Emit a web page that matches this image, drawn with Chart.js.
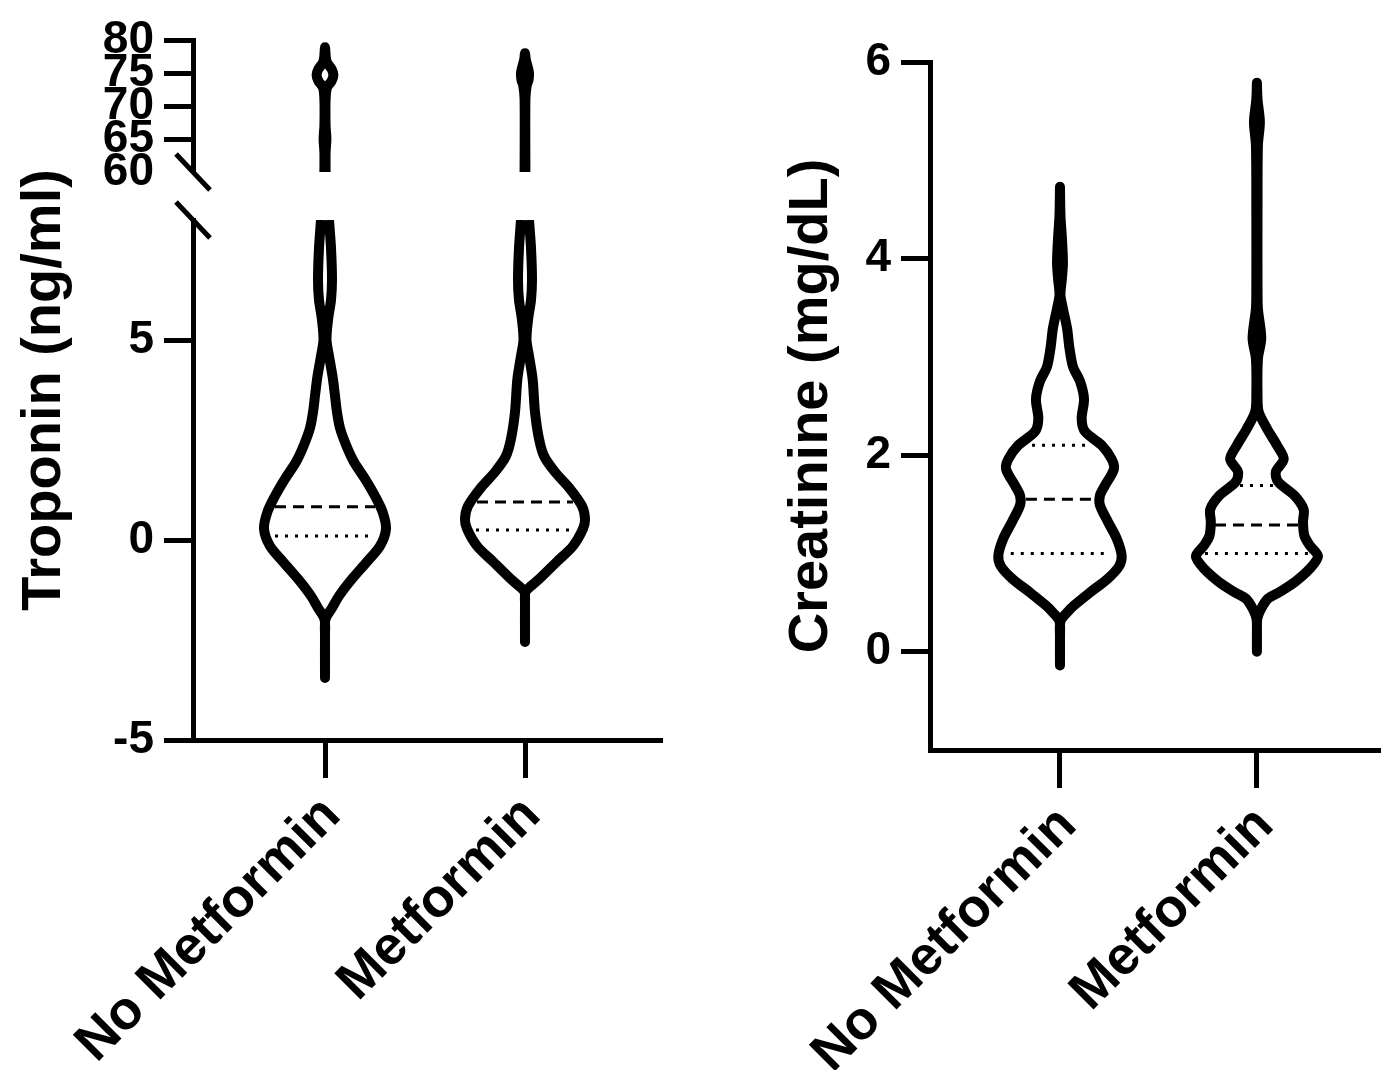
<!DOCTYPE html>
<html>
<head>
<meta charset="utf-8">
<script src="https://cdn.jsdelivr.net/npm/chart.js@4.4.1/dist/chart.umd.min.js"></script>
<style>
    html, body { margin: 0; padding: 0; background: #fff; }
    #wrap { position: relative; width: 1381px; height: 1070px; overflow: hidden; }
    canvas { position: absolute; top: 0; }
    #troponinChart { left: 0; }
    #creatinineChart { left: 690px; }
</style>
</head>
<body>
<div id="wrap">
    <canvas id="troponinChart" width="690" height="1070"></canvas>
    <canvas id="creatinineChart" width="691" height="1070"></canvas>
</div>
<script>
const groups = ['No Metformin', 'Metformin']

// troponin, lower part of the broken axis (-5..8): levels and violin half-widths (category units)
const tropNoMetLevels = [-3.45, -2.4, -1.98, -1.7, -1.4, -0.98, -0.55, -0.15, 0.28, 0.7, 1.1, 1.53, 1.95, 2.38, 2.8, 3.23, 3.65, 4.08, 4.6, 5.0, 5.5, 6.0, 6.5, 7.3, 8.0]
const tropNoMetWidths = [0, 0, 0.0025, 0.035, 0.07, 0.134, 0.209, 0.275, 0.305, 0.288, 0.25, 0.2, 0.145, 0.105, 0.075, 0.059, 0.049, 0.038, 0.02, 0.0075, 0.015, 0.03, 0.035, 0.03, 0.02]
const tropMetLevels = [-2.55, -1.6, -1.3, -1.15, -0.98, -0.55, -0.15, 0.28, 0.53, 0.85, 1.28, 1.7, 2.1, 2.53, 3.2, 4.03, 4.6, 5.0, 5.5, 6.0, 6.5, 7.3, 8.0]
const tropMetWidths = [0, 0, 0.0025, 0.03, 0.07, 0.158, 0.24, 0.29, 0.3, 0.285, 0.225, 0.15, 0.095, 0.07, 0.05, 0.038, 0.02, 0.0075, 0.015, 0.03, 0.035, 0.03, 0.02]

// troponin, upper part of the broken axis (60..80)
const tropNoMetHighLevels = [60, 63, 65, 67, 71, 72.8, 73.8, 74.7, 75.6, 76.6, 77.4, 78.2, 78.9]
const tropNoMetHighWidths = [0.003, 0.003, 0.007, 0.003, 0.003, 0.01, 0.033, 0.042, 0.033, 0.01, 0.004, 0.002, 0]
const tropMetHighLevels = [60, 71, 73, 74, 75, 76, 77, 78]
const tropMetHighWidths = [0.002, 0.002, 0.008, 0.018, 0.02, 0.013, 0.004, 0]

// troponin quartile lines [No Metformin, Metformin]
const tropMedians = [0.83, 0.95]
const tropMedianWidths = [0.25, 0.24]
const tropQ1 = [0.1, 0.25]
const tropQ1Widths = [0.25, 0.245]

const tropLowTicks = [-5, 0, 5]
const tropHighTicks = [60, 65, 70, 75, 80]

// creatinine
const creatNoMetLevels = [-0.14, 0.15, 0.31, 0.4, 0.47, 0.61, 0.74, 0.87, 0.98, 1.15, 1.32, 1.49, 1.59, 1.69, 1.86, 1.96, 2.1, 2.24, 2.37, 2.57, 2.75, 2.9, 3.09, 3.29, 3.49, 3.63, 3.8, 3.96, 4.2, 4.44, 4.73]
const creatNoMetWidths = [0, 0, 0.0025, 0.036, 0.071, 0.157, 0.241, 0.3, 0.313, 0.288, 0.244, 0.203, 0.203, 0.228, 0.274, 0.262, 0.212, 0.127, 0.11, 0.122, 0.102, 0.066, 0.048, 0.036, 0.015, 0.0025, 0.01, 0.015, 0.01, 0.0025, 0]
const creatMetLevels = [0.0, 0.2, 0.34, 0.45, 0.54, 0.61, 0.71, 0.84, 0.97, 1.08, 1.18, 1.32, 1.45, 1.59, 1.73, 1.83, 1.96, 2.1, 2.27, 2.44, 2.6, 2.98, 3.19, 3.49, 3.73, 4.44, 5.15, 5.39, 5.62, 5.79]
const creatMetWidths = [0, 0, 0.0025, 0.025, 0.056, 0.117, 0.193, 0.266, 0.31, 0.269, 0.241, 0.234, 0.237, 0.19, 0.107, 0.096, 0.136, 0.102, 0.051, 0.009, 0.003, 0.005, 0.022, 0.005, 0.003, 0.003, 0.005, 0.015, 0.003, 0]

const creatMedians = [1.55, 1.29]
const creatMedianWidths = [0.173, 0.213]
const creatQ1 = [1.0, 1.0]
const creatQ1Widths = [0.25, 0.264]
const creatQ3 = [2.1, 1.69]
const creatQ3Widths = [0.142, 0.086]

const creatTicks = [0, 2, 4, 6]

const fontFamily = "'Liberation Sans', Arial, Helvetica, sans-serif"
const tickFont = { family: fontFamily, size: 46, weight: 'bold' }
const catFont = { family: fontFamily, size: 54, weight: 'bold' }

Chart.defaults.animation = false
Chart.defaults.color = '#000'

// violin outline: left side top->bottom then right side bottom->top (open at top),
// or right side bottom->top then left side top->bottom (open at bottom)
function outline(center, levels, widths, openBottom) {
    const left = levels.map((y, i) => ({ x: center - widths[i], y }))
    const right = levels.map((y, i) => ({ x: center + widths[i], y }))
    if (openBottom) return right.concat(left.reverse().slice(1))
    return left.reverse().concat(right.slice(1))
}

function violin(data, yAxisID, cap) {
    return {
        data, yAxisID, showLine: true, pointRadius: 0, tension: 0.3,
        borderColor: '#000', borderWidth: 10, borderCapStyle: cap, borderJoinStyle: 'round', fill: false
    }
}

function quartile(center, value, half, yAxisID, dash) {
    return {
        data: [{ x: center - half, y: value }, { x: center + half, y: value }],
        yAxisID, showLine: true, pointRadius: 0, borderColor: '#000', borderWidth: 3, borderDash: dash
    }
}

const sideTitle = {
    id: 'sideTitle',
    afterDraw(chart, args, opts) {
        const { ctx, chartArea } = chart
        ctx.save()
        ctx.font = `bold ${opts.size}px ${fontFamily}`
        ctx.fillStyle = '#000'
        ctx.textAlign = 'center'
        ctx.textBaseline = 'middle'
        ctx.translate(opts.x, (chartArea.top + chartArea.bottom) / 2)
        ctx.rotate(-Math.PI / 2)
        ctx.fillText(opts.text, 0, 0)
        ctx.restore()
    }
}

const axisBreak = {
    id: 'axisBreak',
    afterDraw(chart, args, opts) {
        if (!opts.upper) return
        const { ctx, chartArea } = chart
        const x = chartArea.left
        const ys = [chart.scales[opts.upper].bottom, chart.scales[opts.lower].top]
        ctx.save()
        ctx.strokeStyle = '#000'
        ctx.lineWidth = 5
        ys.forEach(y => {
            ctx.beginPath()
            ctx.moveTo(x - 17, y - 18)
            ctx.lineTo(x + 17, y + 18)
            ctx.stroke()
        })
        ctx.restore()
    }
}

function categoryAxis(min, max, height, shift) {
    return {
        type: 'linear', min, max,
        afterBuildTicks: s => { s.ticks = groups.map((g, i) => ({ value: i })) },
        afterFit: s => { s.height = height },
        ticks: {
            autoSkip: false, minRotation: 45, maxRotation: 45, callback: v => groups[v],
            font: catFont, color: '#000', padding: 6, labelOffset: shift
        },
        grid: { display: true, drawOnChartArea: false, tickLength: 38, tickWidth: 5, tickColor: '#000' },
        border: { display: true, width: 5, color: '#000' }
    }
}

function valueAxis(min, max, ticks, width, extra) {
    return Object.assign({
        type: 'linear', position: 'left', min, max,
        afterBuildTicks: s => { s.ticks = ticks.map(value => ({ value })) },
        afterFit: s => { s.width = width },
        ticks: { autoSkip: false, font: tickFont, color: '#000', padding: 10 },
        grid: { display: true, drawOnChartArea: false, tickLength: 29, tickWidth: 5, tickColor: '#000' },
        border: { display: true, width: 5, color: '#000' }
    }, extra)
}

const commonPlugins = { legend: { display: false }, tooltip: { enabled: false } }

new Chart(document.getElementById('troponinChart'), {
    type: 'scatter',
    data: {
        datasets: [
            violin(outline(0, tropNoMetLevels, tropNoMetWidths, false), 'y', 'butt'),
            violin(outline(1, tropMetLevels, tropMetWidths, false), 'y', 'butt'),
            violin(outline(0, tropNoMetHighLevels, tropNoMetHighWidths, true), 'yTop', 'butt'),
            violin(outline(1, tropMetHighLevels, tropMetHighWidths, true), 'yTop', 'butt'),
            ...groups.map((g, i) => quartile(i, tropMedians[i], tropMedianWidths[i], 'y', [11, 7])),
            ...groups.map((g, i) => quartile(i, tropQ1[i], tropQ1Widths[i], 'y', [3, 7]))
        ]
    },
    options: {
        responsive: false,
        layout: { padding: { top: 40, right: 28, left: 0, bottom: 0 } },
        scales: {
            x: categoryAxis(-0.66, 1.685, 330, 7),
            y: valueAxis(-5, 8, tropLowTicks, 193, { stack: 'trop', stackWeight: 520 }),
            yGap: {
                type: 'linear', position: 'left', stack: 'trop', stackWeight: 48, min: 0, max: 1,
                afterFit: s => { s.width = 193 },
                ticks: { display: false }, grid: { display: false }, border: { display: false }
            },
            yTop: valueAxis(60, 80, tropHighTicks, 193, {
                stack: 'trop', stackWeight: 132,
                grid: {
                    display: true, drawOnChartArea: false, tickLength: 29, tickWidth: 5,
                    tickColor: ctx => (ctx.tick && ctx.tick.value === 60 ? 'rgba(0,0,0,0)' : '#000')
                }
            })
        },
        plugins: {
            ...commonPlugins,
            sideTitle: { text: 'Troponin (ng/ml)', x: 45, size: 56 },
            axisBreak: { upper: 'yTop', lower: 'y' }
        }
    },
    plugins: [sideTitle, axisBreak]
})

new Chart(document.getElementById('creatinineChart'), {
    type: 'scatter',
    data: {
        datasets: [
            violin(outline(0, creatNoMetLevels, creatNoMetWidths, false), 'y', 'round'),
            violin(outline(1, creatMetLevels, creatMetWidths, false), 'y', 'round'),
            ...groups.map((g, i) => quartile(i, creatMedians[i], creatMedianWidths[i], 'y', [11, 7])),
            ...groups.map((g, i) => quartile(i, creatQ1[i], creatQ1Widths[i], 'y', [3, 7])),
            ...groups.map((g, i) => quartile(i, creatQ3[i], creatQ3Widths[i], 'y', [3, 7]))
        ]
    },
    options: {
        responsive: false,
        layout: { padding: { top: 62, right: 0, left: 0, bottom: 0 } },
        scales: {
            x: categoryAxis(-0.66, 1.63, 320, 8),
            y: valueAxis(-1, 6, creatTicks, 240, {})
        },
        plugins: {
            ...commonPlugins,
            sideTitle: { text: 'Creatinine (mg/dL)', x: 122, size: 56 },
            axisBreak: {}
        }
    },
    plugins: [sideTitle, axisBreak]
})
</script>
</body>
</html>
